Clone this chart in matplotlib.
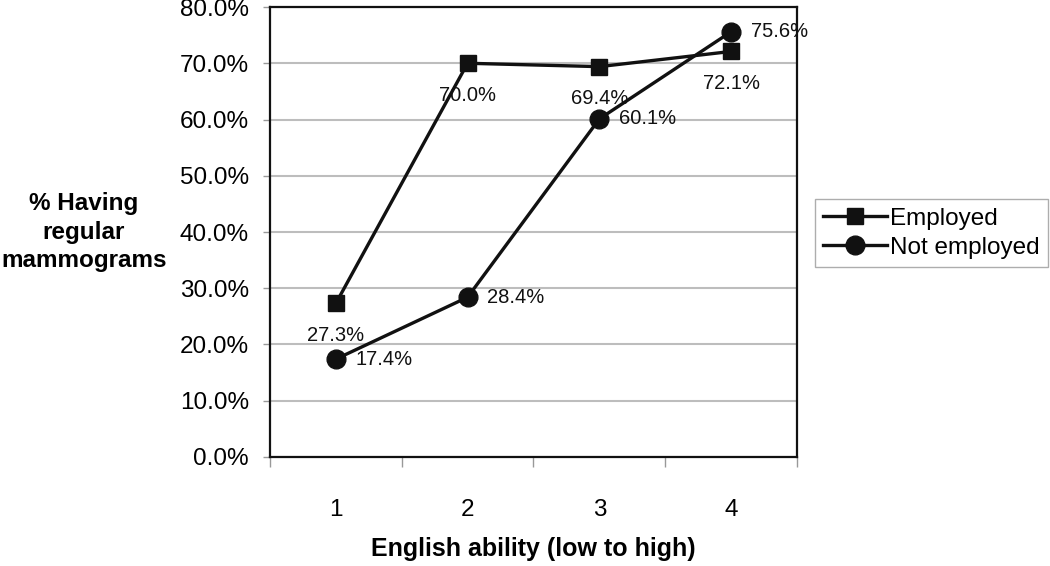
import matplotlib.pyplot as plt
from matplotlib.ticker import FuncFormatter

plt.rcParams['font.family'] = ['Liberation Sans', 'DejaVu Sans']

# datos
english_level = [1, 2, 3, 4]
employed = [27.3, 70.0, 69.4, 72.1]
not_employed = [17.4, 28.4, 60.1, 75.6]
x_tick_labels = ['1', '2', '3', '4']

fig = plt.figure(figsize=(10.5, 5.66), dpi=100)
ax = fig.add_axes([0.2571, 0.1926, 0.5019, 0.795])

ax.plot(english_level, employed, color='#111111', lw=2.4, marker='s', ms=11.5,
        label='Employed', zorder=3)
ax.plot(english_level, not_employed, color='#111111', lw=2.4, marker='o', ms=13.5,
        label='Not employed', zorder=3)

# etiquetas de datos
for x, y in zip(english_level, employed):
    ax.annotate('%.1f%%' % y, (x, y), xytext=(0, -23), textcoords='offset points',
                ha='center', va='center', fontsize=14.5, color='#111111')
for x, y in zip(english_level, not_employed):
    ax.annotate('%.1f%%' % y, (x, y), xytext=(14, 0), textcoords='offset points',
                ha='left', va='center', fontsize=14.5, color='#111111')

ax.set_xlim(0.5, 4.5)
ax.set_ylim(0, 80)
ax.set_yticks(range(0, 81, 10))
ax.yaxis.set_major_formatter(FuncFormatter(lambda v, p: '%.1f%%' % v))
ax.set_xticks([0.5, 1.5, 2.5, 3.5, 4.5])
ax.set_xticklabels([])
ax.set_xticks(english_level, minor=True)
ax.set_xticklabels(x_tick_labels, minor=True)
ax.tick_params(axis='x', which='minor', length=0, labelsize=17.5, pad=30)
ax.tick_params(axis='x', which='major', length=7, color='#999999', width=1)
ax.tick_params(axis='y', length=5, color='#999999', width=1, labelsize=17.5, pad=10)

ax.grid(axis='y', color='#bdbdbd', lw=1.5)
ax.set_axisbelow(True)
for s in ax.spines.values():
    s.set_linewidth(1.6)
    s.set_color('#111111')

ax.set_xlabel('English ability (low to high)', fontsize=18, fontweight='bold', labelpad=12)
fig.text(0.08, 0.59, '% Having\nregular\nmammograms', fontsize=17.5, fontweight='bold',
         ha='center', va='center', linespacing=1.3)

leg = fig.legend(loc='center left', bbox_to_anchor=(0.776, 0.588), fontsize=17.5,
                 frameon=True, fancybox=False, edgecolor='#999999', handlelength=2.6,
                 handletextpad=0.15, borderpad=0.35, labelspacing=0.3, borderaxespad=0)
leg.get_frame().set_linewidth(1)

fig.savefig('out.png', dpi=100)
